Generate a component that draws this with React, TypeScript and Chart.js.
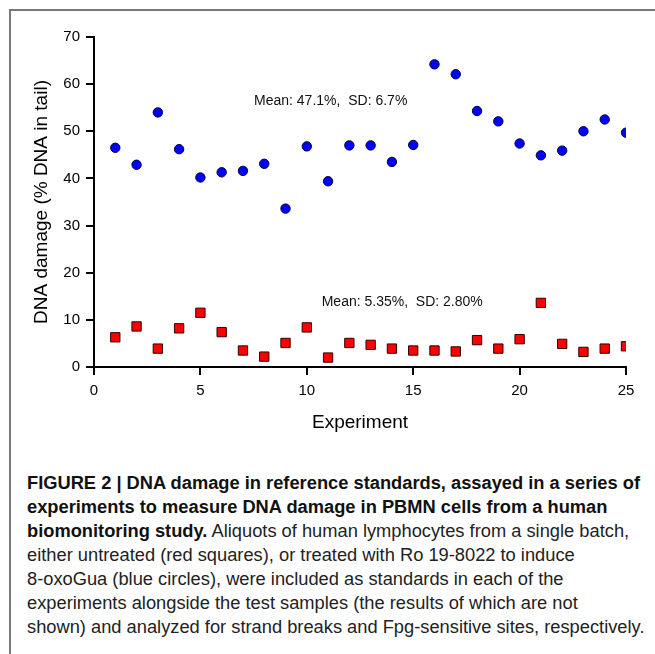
import React, { useEffect, useRef } from "react";
import { Chart, registerables } from "chart.js";

Chart.register(...registerables);

const experiments = [1, 2, 3, 4, 5, 6, 7, 8, 9, 10, 11, 12, 13, 14, 15, 16, 17, 18, 19, 20, 21, 22, 23, 24, 25];
const treatedValues = [46.5, 42.9, 54.0, 46.2, 40.2, 41.3, 41.6, 43.1, 33.6, 46.8, 39.4, 47.0, 47.0, 43.5, 47.1, 64.2, 62.1, 54.3, 52.1, 47.4, 44.9, 45.9, 50.0, 52.5, 49.7];
const untreatedValues = [6.3, 8.6, 3.9, 8.2, 11.5, 7.4, 3.5, 2.2, 5.1, 8.4, 2.0, 5.1, 4.7, 3.9, 3.5, 3.5, 3.3, 5.7, 3.9, 5.9, 13.6, 4.9, 3.2, 3.9, 4.4];
const xTickValues = [0, 5, 10, 15, 20, 25];
const yTickValues = [0, 10, 20, 30, 40, 50, 60, 70];
const annotationTexts = ["Mean: 47.1%,  SD: 6.7%", "Mean: 5.35%,  SD: 2.80%"];
const annotationX = [7.52, 10.7];
const annotationY = [56.4, 13.7];
const xTitle = "Experiment";
const yTitle = "DNA damage (% DNA in tail)";

const captionBoldLines = [
  "FIGURE 2 | DNA damage in reference standards, assayed in a series of",
  "experiments to measure DNA damage in PBMN cells from a human",
  "biomonitoring study.",
];
const captionRegularLines = [
  " Aliquots of human lymphocytes from a single batch,",
  "either untreated (red squares), or treated with Ro 19-8022 to induce",
  "8-oxoGua (blue circles), were included as standards in each of the",
  "experiments alongside the test samples (the results of which are not",
  "shown) and analyzed for strand breaks and Fpg-sensitive sites, respectively.",
];

const FONT = "'Liberation Sans', Arial, Helvetica, sans-serif";

const annotationPlugin = {
  id: "meanLabels",
  afterDatasetsDraw(chart: any) {
    const { ctx, scales } = chart;
    ctx.save();
    ctx.font = `14px ${FONT}`;
    ctx.fillStyle = "#111";
    ctx.textAlign = "left";
    ctx.textBaseline = "middle";
    annotationTexts.forEach((t, i) => {
      ctx.fillText(t, scales.x.getPixelForValue(annotationX[i]), scales.y.getPixelForValue(annotationY[i]));
    });
    ctx.restore();
  },
};

export default function App() {
  const ref = useRef<HTMLCanvasElement | null>(null);

  useEffect(() => {
    if (!ref.current) return;
    const chart = new Chart(ref.current, {
      type: "scatter",
      data: {
        datasets: [
          {
            label: "Ro 19-8022 treated",
            data: experiments.map((x, i) => ({ x, y: treatedValues[i] })),
            pointStyle: "circle",
            pointRadius: 4.7,
            pointBackgroundColor: "#0000ff",
            pointBorderColor: "#000033",
            pointBorderWidth: 1,
          },
          {
            label: "Untreated",
            data: experiments.map((x, i) => ({ x, y: untreatedValues[i] })),
            pointStyle: "rect",
            pointRadius: 6.6,
            pointBackgroundColor: "#ff0000",
            pointBorderColor: "#330000",
            pointBorderWidth: 1,
          },
        ],
      },
      options: {
        responsive: false,
        animation: false,
        devicePixelRatio: 1,
        layout: { padding: { top: 26, right: 29, bottom: 0, left: 0 } },
        plugins: { legend: { display: false }, tooltip: { enabled: false } },
        scales: {
          x: {
            type: "linear",
            min: 0,
            max: 25,
            afterBuildTicks: (s: any) => {
              s.ticks = xTickValues.map((v) => ({ value: v }));
            },
            afterFit: (s: any) => {
              s.height = 74;
            },
            ticks: { color: "#000", font: { family: FONT, size: 15 }, padding: 7, maxRotation: 0 },
            grid: { drawOnChartArea: false, drawTicks: true, tickLength: 8, color: "#000", lineWidth: 2 },
            border: { display: true, color: "#000", width: 2 },
            title: { display: true, text: xTitle, color: "#000", font: { family: FONT, size: 19 }, padding: { top: 0, bottom: 6.6 } },
          },
          y: {
            type: "linear",
            min: 0,
            max: 70,
            afterBuildTicks: (s: any) => {
              s.ticks = yTickValues.map((v) => ({ value: v }));
            },
            afterFit: (s: any) => {
              s.width = 83;
            },
            ticks: { color: "#000", font: { family: FONT, size: 15 }, padding: 6 },
            grid: { drawOnChartArea: false, drawTicks: true, tickLength: 8, color: "#000", lineWidth: 2 },
            border: { display: true, color: "#000", width: 2 },
            title: { display: true, text: yTitle, color: "#000", font: { family: FONT, size: 19 }, padding: { top: 19, bottom: 0 } },
          },
        },
      },
      plugins: [annotationPlugin],
    });
    return () => chart.destroy();
  }, []);

  const lineStyle: React.CSSProperties = { whiteSpace: "nowrap", height: 24, lineHeight: "24px" };

  return (
    <div
      style={{
        position: "absolute",
        left: 9,
        top: 9,
        width: 646,
        height: 645,
        boxSizing: "border-box",
        borderTop: "2px solid #7a7a7a",
        borderLeft: "2px solid #7a7a7a",
        background: "#fff",
      }}
    >
      <canvas ref={ref} width={644} height={430} style={{ position: "absolute", left: 0, top: 0, width: 644, height: 430 }} />
      <div
        style={{
          position: "absolute",
          left: 16,
          top: 460,
          fontFamily: FONT,
          fontSize: 18.3,
          color: "#222",
        }}
      >
        <div style={{ ...lineStyle, fontWeight: "bold", color: "#111" }}>{captionBoldLines[0]}</div>
        <div style={{ ...lineStyle, fontWeight: "bold", color: "#111" }}>{captionBoldLines[1]}</div>
        <div style={lineStyle}>
          <span style={{ fontWeight: "bold", color: "#111" }}>{captionBoldLines[2]}</span>
          <span>{captionRegularLines[0]}</span>
        </div>
        <div style={lineStyle}>{captionRegularLines[1]}</div>
        <div style={lineStyle}>{captionRegularLines[2]}</div>
        <div style={lineStyle}>{captionRegularLines[3]}</div>
        <div style={lineStyle}>{captionRegularLines[4]}</div>
      </div>
    </div>
  );
}
